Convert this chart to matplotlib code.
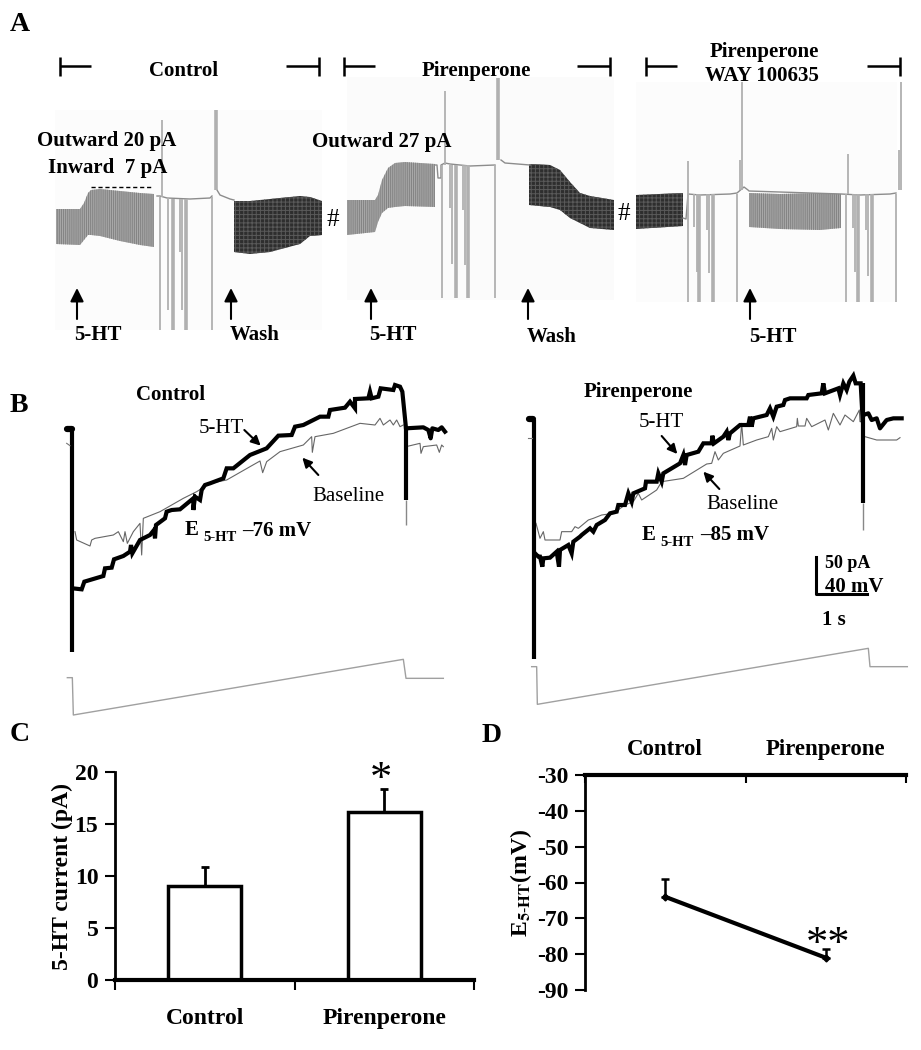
import matplotlib
matplotlib.use('Agg')
import numpy as np
import matplotlib.pyplot as plt

plt.rcParams['font.family'] = ['Liberation Serif', 'DejaVu Serif']
plt.rcParams['hatch.linewidth'] = 0.7
plt.rcParams['axes.unicode_minus'] = False

# panel A (x, y in image pixels)
a1_grey_x = [56, 80, 84, 88, 91, 100, 120, 140, 154]
a1_grey_top = [209, 209, 203, 193, 190, 189, 191, 193, 194]
a1_grey_bot = [244, 245, 240, 235, 235, 236, 241, 245, 247]
a1_dark_x = [234, 250, 270, 300, 310, 322]
a1_dark_top = [201, 201, 199, 196, 197, 201]
a1_dark_bot = [252, 254, 252, 244, 236, 235]
a1_base_x = [157, 160, 167, 190, 210, 212]
a1_base_y = [196, 196, 198, 199, 198, 196]
a1_decay_x = [217, 220, 230, 234]
a1_decay_y = [190, 195, 199, 200]
a1_down_x = [160, 168, 173, 180, 182, 186, 212]
a1_down_top = [197, 198, 199, 199, 199, 199, 197]
a1_down_bot = [330, 310, 330, 252, 310, 330, 330]
a1_up_x = [162, 216]
a1_up_top = [120, 110]
a1_up_bot = [197, 190]

a2_grey_x = [347, 375, 378, 382, 388, 395, 405, 435]
a2_grey_top = [200, 200, 195, 180, 168, 163, 162, 164]
a2_grey_bot = [235, 232, 222, 213, 208, 207, 206, 207]
a2_dark_x = [529, 550, 560, 570, 580, 590, 614]
a2_dark_top = [164, 165, 170, 182, 193, 196, 200]
a2_dark_bot = [205, 207, 210, 218, 223, 228, 230]
a2_base_x = [435, 437, 438, 441, 441, 445, 450, 470, 495]
a2_base_y = [165, 165, 178, 178, 165, 163, 164, 166, 165]
a2_decay_x = [501, 505, 530]
a2_decay_y = [160, 163, 165]
a2_down_x = [442, 450, 452, 456, 463, 465, 468, 495]
a2_down_top = [165, 165, 165, 165, 165, 165, 165, 165]
a2_down_bot = [298, 208, 264, 298, 210, 265, 298, 298]
a2_up_x = [445, 498]
a2_up_top = [91, 78]
a2_up_bot = [165, 160]

a3_grey_x = [749, 780, 820, 841]
a3_grey_top = [193, 194, 193, 194]
a3_grey_bot = [227, 229, 230, 228]
a3_dark_x = [636, 683]
a3_dark_top = [195, 193]
a3_dark_bot = [229, 226]
a3_base_x = [683, 686, 688, 700, 730, 737, 744, 748, 749, 841, 860, 890, 896]
a3_base_y = [218, 219, 194, 195, 194, 193, 187, 190, 191, 194, 195, 194, 193]
a3_down_x = [688, 694, 697, 699, 707, 709, 713, 737, 846, 853, 855, 858, 866, 868, 872, 896]
a3_down_top = [194] * 16
a3_down_bot = [302, 227, 272, 302, 230, 273, 302, 302, 302, 228, 272, 302, 230, 276, 302, 302]
a3_up_x = [688, 740, 742, 848, 899, 901]
a3_up_top = [161, 160, 82, 154, 150, 82]
a3_up_bot = [194, 190, 190, 194, 190, 190]

# panel B traces, axis units are 1/3 px of the image crop
b1_5ht_x = [68, 95, 103, 160, 165, 185, 192, 220, 240, 243, 247, 270, 300, 312, 315, 318, 345, 350, 365, 390, 430, 430, 435, 450, 455, 465, 480, 520, 530, 550, 600, 650, 685, 725, 735, 760, 810, 835, 840, 885, 900, 915, 915, 955, 960, 965, 985, 992, 1030, 1035, 1050, 1057, 1068]
b1_5ht_y = [640, 643, 620, 603, 580, 578, 553, 543, 530, 510, 535, 495, 480, 465, 490, 450, 430, 410, 405, 403, 370, 405, 365, 375, 345, 330, 325, 310, 280, 280, 240, 220, 182, 180, 155, 150, 125, 125, 105, 98, 80, 100, 72, 70, 50, 70, 65, 40, 45, 30, 35, 50, 160]
b1_5ht_end_x = [1068, 1120, 1135, 1142, 1147, 1165, 1175, 1185]
b1_5ht_end_y = [160, 157, 165, 190, 160, 165, 157, 170]
b1_base_x = [75, 80, 120, 125, 135, 190, 205, 220, 225, 232, 250, 270, 275, 280, 330, 400, 440, 480, 530, 600, 630, 638, 650, 690, 760, 785, 787, 795, 850, 930, 975, 990, 1000, 1020, 1030, 1040, 1050, 1060]
b1_base_y = [470, 495, 513, 495, 490, 480, 470, 500, 470, 505, 470, 445, 540, 430, 410, 370, 350, 325, 315, 275, 258, 293, 260, 230, 210, 185, 232, 185, 175, 145, 150, 130, 150, 135, 150, 135, 155, 150]
b1_base_end_x = [1068, 1110, 1113, 1120, 1160, 1168, 1175, 1180]
b1_base_end_y = [215, 205, 235, 215, 210, 232, 210, 215]
b1_ramp_x = [52, 67, 70, 1060, 1068, 1180]
b1_ramp_y = [908, 908, 1020, 853, 910, 910]

b2_5ht_x = [75, 85, 90, 97, 100, 120, 140, 147, 150, 175, 185, 190, 210, 215, 240, 250, 260, 285, 300, 320, 325, 345, 355, 365, 370, 405, 408, 440, 445, 455, 460, 510, 520, 525, 530, 565, 580, 605, 607, 612, 640, 650, 655, 660, 690, 715, 720, 725, 730, 770, 780, 790, 800, 820, 825, 840, 890, 895, 935, 940, 945, 985, 990, 1000, 1010, 1018, 1030, 1037, 1052, 1058]
b2_5ht_y = [565, 575, 575, 605, 580, 578, 560, 605, 555, 540, 565, 530, 515, 510, 490, 500, 480, 465, 445, 440, 420, 420, 385, 410, 385, 370, 350, 350, 325, 350, 325, 295, 270, 300, 270, 260, 235, 235, 212, 235, 215, 200, 225, 205, 180, 180, 155, 185, 160, 150, 130, 155, 125, 120, 105, 100, 100, 90, 85, 55, 85, 70, 90, 55, 75, 50, 32, 55, 55, 165]
b2_5ht_end_x = [1060, 1075, 1085, 1100, 1110, 1130, 1150, 1175]
b2_5ht_end_y = [150, 145, 165, 160, 190, 165, 160, 160]
b2_base_x = [78, 90, 100, 105, 150, 155, 185, 195, 205, 235, 250, 275, 310, 345, 370, 385, 395, 440, 455, 520, 590, 605, 615, 625, 640, 690, 695, 700, 740, 775, 785, 790, 800, 810, 860, 862, 865, 885, 890, 905, 945, 955, 970, 990, 1005, 1030, 1048, 1050, 1058]
b2_base_y = [475, 520, 500, 525, 525, 500, 500, 485, 490, 465, 460, 450, 445, 420, 410, 385, 405, 375, 350, 340, 297, 295, 260, 285, 265, 243, 175, 240, 225, 215, 190, 225, 185, 200, 185, 160, 183, 183, 160, 185, 165, 195, 145, 180, 150, 170, 135, 170, 170]
b2_base_end_x = [1065, 1100, 1160, 1170]
b2_base_end_y = [215, 225, 225, 218]
b2_ramp_x = [65, 80, 82, 1075, 1080, 1192]
b2_ramp_y = [905, 905, 1018, 850, 905, 905]

# panel C and D values
c_labels = ['Control', 'Pirenperone']
c_values = [9.0, 16.2]
c_errors = [1.9, 2.2]
c_yticks = [0, 5, 10, 15, 20]
d_labels = ['Control', 'Pirenperone']
d_values = [-64, -81]
d_errors = [5, 2.5]
d_yticks = [-30, -40, -50, -60, -70, -80, -90]


def px_axes(fig, x, y, w, h):
    # axes placed by image pixels, y counted from the top
    return fig.add_axes([x / 921, 1 - (y + h) / 1050, w / 921, h / 1050])


def patch_band(ax, x, top, bot, dark=False):
    if dark:
        ax.fill_between(x, top, bot, facecolor='#2e2e2e', edgecolor='#5a5a5a', hatch='++++', linewidth=0)
    else:
        ax.fill_between(x, top, bot, facecolor='#a8a8a8', edgecolor='#828282', hatch='||||||||', linewidth=0)


def spikes(ax, x, top, bot, thick=()):
    widths = [2.6 if v in thick else 1.3 for v in x]
    ax.vlines(x, top, bot, color='#b0b0b0', lw=widths)


def arrow(ax, x0, y0, x1, y1, lw=1.5, scale=20):
    ax.annotate('', xy=(x1, y1), xytext=(x0, y0),
                arrowprops=dict(arrowstyle='-|>', color='black', lw=lw, mutation_scale=scale, shrinkA=0, shrinkB=0))


def label(ax, x, y, s, size=15, ha='left', weight='bold'):
    # small offset so the text centre lands on the letters, not the line box
    ax.annotate(s, (x, y), xytext=(0, -1.5), textcoords='offset points', fontsize=size,
                fontweight=weight, ha=ha, va='center', color='black')


fig = plt.figure(figsize=(9.21, 10.5), dpi=100)

# whole figure pixel axes for panel A and the labels
ax = fig.add_axes([0, 0, 1, 1])
ax.set_xlim(0, 921)
ax.set_ylim(1050, 0)
ax.axis('off')

ax.fill_between([55, 322], [110, 110], [330, 330], color='#fcfcfc', linewidth=0)
ax.fill_between([347, 614], [77, 77], [300, 300], color='#fbfbfb', linewidth=0)
ax.fill_between([636, 897], [82, 82], [302, 302], color='#fcfcfc', linewidth=0)

patch_band(ax, a1_grey_x, a1_grey_top, a1_grey_bot)
patch_band(ax, a1_dark_x, a1_dark_top, a1_dark_bot, dark=True)
patch_band(ax, a2_grey_x, a2_grey_top, a2_grey_bot)
patch_band(ax, a2_dark_x, a2_dark_top, a2_dark_bot, dark=True)
patch_band(ax, a3_grey_x, a3_grey_top, a3_grey_bot)
patch_band(ax, a3_dark_x, a3_dark_top, a3_dark_bot, dark=True)

for bx, by in [(a1_base_x, a1_base_y), (a1_decay_x, a1_decay_y), (a2_base_x, a2_base_y),
               (a2_decay_x, a2_decay_y), (a3_base_x, a3_base_y)]:
    ax.plot(bx, by, color='#8c8c8c', lw=1.0)
spikes(ax, a1_down_x, a1_down_top, a1_down_bot, thick=(173, 186))
spikes(ax, a2_down_x, a2_down_top, a2_down_bot, thick=(456, 468))
spikes(ax, a3_down_x, a3_down_top, a3_down_bot, thick=(699, 713, 858, 872))
spikes(ax, a1_up_x, a1_up_top, a1_up_bot, thick=(216,))
spikes(ax, a2_up_x, a2_up_top, a2_up_bot, thick=(498,))
spikes(ax, a3_up_x, a3_up_top, a3_up_bot)

# brackets on top of A
for left, right in [(60, 319), (344, 610), (646, 900)]:
    ax.vlines([left, right], 57, 76, color='black', lw=1.8)
    ax.hlines(66, left, left + 31, color='black', lw=1.8)
    ax.hlines(66, right - 33, right, color='black', lw=1.8)
ax.hlines(187, 91, 152, color='black', lw=1, linestyles=(0, (3, 2)))

label(ax, 10, 22, 'A', 20)
label(ax, 10, 403, 'B', 20)
label(ax, 10, 732, 'C', 20)
label(ax, 482, 733, 'D', 20)

label(ax, 184, 69, 'Control', ha='center')
label(ax, 476, 69, 'Pirenperone', ha='center')
label(ax, 764, 50, 'Pirenperone', ha='center')
label(ax, 762, 74, 'WAY 100635', ha='center')
label(ax, 37, 139, 'Outward 20 pA')
label(ax, 48, 166, 'Inward  7 pA')
label(ax, 312, 140, 'Outward 27 pA')
label(ax, 74, 333, '5-HT')
label(ax, 230, 333, 'Wash')
label(ax, 369, 333, '5-HT')
label(ax, 527, 335, 'Wash')
label(ax, 749, 335, '5-HT')
label(ax, 333, 218, '#', 18, ha='center', weight='normal')
label(ax, 624, 212, '#', 18, ha='center', weight='normal')

for ax_x in [77, 231, 371, 528, 750]:
    arrow(ax, ax_x, 319, ax_x, 288)

# panel B left
b1 = px_axes(fig, 50, 375, 410, 350)
b1.set_xlim(0, 1230)
b1.set_ylim(1050, 0)
b1.axis('off')
b1.plot(b1_ramp_x, b1_ramp_y, color='#a0a0a0', lw=1)
b1.plot(b1_base_x, b1_base_y, color='#666666', lw=0.8)
b1.plot(b1_base_end_x, b1_base_end_y, color='#666666', lw=0.8)
b1.plot(b1_5ht_x, b1_5ht_y, color='black', lw=3, solid_joinstyle='miter')
b1.plot(b1_5ht_end_x, b1_5ht_end_y, color='black', lw=3)
b1.vlines(67, 160, 832, color='black', lw=3)
b1.plot([52, 65], [162, 162], color='black', lw=4.5, solid_capstyle='round')
b1.plot([50, 60], [205, 212], color='#777777', lw=0.8)
b1.vlines(1068, 160, 375, color='black', lw=3)
b1.vlines(1068, 375, 450, color='#888888', lw=1)
label(b1, 258, 55, 'Control')
label(b1, 445, 155, '5-HT', weight='normal')
label(b1, 788, 358, 'Baseline', weight='normal')
arrow(b1, 583, 165, 632, 212, lw=1.5, scale=14)
arrow(b1, 805, 300, 757, 248, lw=1.5, scale=14)
label(b1, 405, 460, 'E')
label(b1, 460, 482, '5-HT', 10.5)
label(b1, 577, 462, '\u201376 mV')

# panel B right
b2 = px_axes(fig, 510, 365, 410, 360)
b2.set_xlim(0, 1230)
b2.set_ylim(1080, 0)
b2.axis('off')
b2.plot(b2_ramp_x, b2_ramp_y, color='#a0a0a0', lw=1)
b2.plot(b2_base_x, b2_base_y, color='#666666', lw=0.8)
b2.plot(b2_base_end_x, b2_base_end_y, color='#666666', lw=0.8)
b2.plot(b2_5ht_x, b2_5ht_y, color='black', lw=3, solid_joinstyle='miter')
b2.plot(b2_5ht_end_x, b2_5ht_end_y, color='black', lw=3)
b2.vlines(73, 165, 882, color='black', lw=3)
b2.plot([58, 70], [162, 162], color='black', lw=4.5, solid_capstyle='round')
b2.plot([55, 65], [218, 218], color='#777777', lw=0.8)
b2.vlines(1060, 55, 415, color='black', lw=3)
b2.vlines(1060, 415, 495, color='#888888', lw=1)
label(b2, 222, 75, 'Pirenperone')
label(b2, 387, 165, '5-HT', weight='normal')
label(b2, 590, 412, 'Baseline', weight='normal')
arrow(b2, 455, 213, 502, 267, lw=1.5, scale=14)
arrow(b2, 628, 372, 580, 320, lw=1.5, scale=14)
label(b2, 395, 505, 'E')
label(b2, 450, 527, '5-HT', 10.5)
label(b2, 570, 505, '\u201385 mV')
b2.plot([918, 918, 1070], [575, 688, 688], color='black', lw=2.2)
label(b2, 945, 590, '50 pA', 13)
label(b2, 945, 660, '40 mV', 15)
label(b2, 935, 758, '1 s', 15)

# panel C
c = px_axes(fig, 115, 772, 359, 208)
c.set_xlim(0, 2)
c.set_ylim(0, 20)
c.patch.set_alpha(0)
c_x = [0.5, 1.5]
c.bar(c_x, c_values, width=0.405, facecolor='white', edgecolor='black', linewidth=2.5)
c.errorbar(c_x, c_values, yerr=[[0, 0], c_errors], fmt='none', ecolor='black', elinewidth=2, capsize=3, capthick=2)
c.spines['top'].set_visible(False)
c.spines['right'].set_visible(False)
c.spines['left'].set_linewidth(2)
c.spines['bottom'].set_linewidth(3)
c.set_yticks(c_yticks)
c.set_xticks([0, 1, 2])
c.set_xticklabels([])
c.set_xticks(c_x, minor=True)
c.set_xticklabels(c_labels, minor=True, fontsize=17, fontweight='bold')
c.tick_params(axis='x', which='minor', length=0, pad=20)
c.tick_params(axis='x', which='major', length=7, width=1.5)
c.tick_params(axis='y', length=7, width=1.5, labelsize=17, pad=5)
for t in c.get_yticklabels():
    t.set_fontweight('bold')
c.set_ylabel('5-HT current (pA)', fontsize=17, fontweight='bold', labelpad=1)
label(ax, 381, 778, '*', 32, ha='center', weight='normal')

# panel D
d = px_axes(fig, 585, 775, 321, 215)
d.set_xlim(0, 2)
d.set_ylim(-90, -30)
d.patch.set_alpha(0)
d_x = [0.5, 1.5]
d.errorbar(d_x, d_values, yerr=[[0, 0], d_errors], fmt='-D', color='black', ms=3.5, lw=3,
           elinewidth=1.8, capsize=3, capthick=1.8)
d.spines['bottom'].set_visible(False)
d.spines['right'].set_visible(False)
d.spines['left'].set_linewidth(2)
d.spines['top'].set_linewidth(3)
d.xaxis.tick_top()
d.set_yticks(d_yticks)
d.set_xticks([0, 1, 2])
d.set_xticklabels([])
d.set_xticks(d_x, minor=True)
d.set_xticklabels(d_labels, minor=True, fontsize=16.5, fontweight='bold')
d.tick_params(axis='x', which='minor', length=0, pad=11)
d.tick_params(axis='x', which='major', direction='in', length=6, width=1.5)
d.tick_params(axis='y', length=7, width=1.5, labelsize=17, pad=5)
for t in d.get_yticklabels():
    t.set_fontweight('bold')
d.set_ylabel('E$_{\\mathbf{5\\text{-}HT}}$(mV)', fontsize=17, fontweight='bold', labelpad=2,
             math_fontfamily='stix')
label(ax, 828, 943, '**', 32, ha='center', weight='normal')

fig.savefig('out.png', dpi=100)
